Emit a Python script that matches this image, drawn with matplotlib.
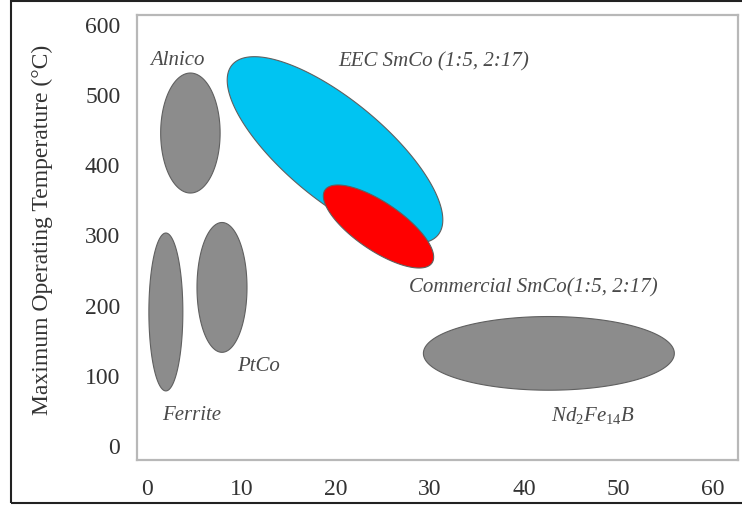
import numpy as np
import matplotlib
matplotlib.use("Agg")
import matplotlib.pyplot as plt
from matplotlib.patches import Rectangle

plt.rcParams['font.family'] = ['Liberation Serif', 'DejaVu Serif']
plt.rcParams['mathtext.fontset'] = 'custom'
plt.rcParams['mathtext.rm'] = 'Liberation Serif'
plt.rcParams['mathtext.it'] = 'Liberation Serif:italic'

# ---- data ----
x_ticks = [0, 10, 20, 30, 40, 50, 60]
y_ticks = [0, 100, 200, 300, 400, 500, 600]

# axis-aligned regions: (center x, center y, width, height)
upright_names = ["Alnico", "Ferrite", "PtCo", "Nd2Fe14B"]
upright_cx = [4.6, 2.0, 7.95, 42.6]
upright_cy = [446, 191, 226, 132]
upright_w = [6.3, 3.6, 5.3, 26.6]
upright_h = [171, 225, 185, 105]

# tilted regions: center and conjugate semi-axis vectors (data units)
tilt_names = ["EEC SmCo", "Commercial SmCo"]
tilt_cx = [19.93, 24.54]
tilt_cy = [421.8, 312.8]
tilt_major = [(10.92, -121.1), (5.67, -52.0)]
tilt_minor = [(3.37, 55.0), (1.43, 28.2)]
tilt_colors = ["#00c4f2", "#ff0000"]

labels = ["Alnico", "EEC SmCo (1:5, 2:17)", "Commercial SmCo(1:5, 2:17)",
          "PtCo", "Ferrite", r"$Nd_2Fe_{14}B$"]
label_x = [0.3, 20.3, 27.8, 9.5, 1.6, 42.8]
label_y = [550, 547, 225, 114, 43, 43]

fig = plt.figure(figsize=(7.42, 5.07), dpi=100)
ax = fig.add_axes([137/742, 1-460/507, (738-137)/742, (460-15)/507])

t = np.linspace(0, 2*np.pi, 400)
gray = "#8c8c8c"
edge = "#606060"
for cx, cy, w, h in zip(upright_cx, upright_cy, upright_w, upright_h):
    ax.fill(cx + w/2*np.cos(t), cy + h/2*np.sin(t), facecolor=gray,
            edgecolor=edge, linewidth=0.8, zorder=2)

for cx, cy, mj, mn, c in zip(tilt_cx, tilt_cy, tilt_major, tilt_minor, tilt_colors):
    xs = cx + mj[0]*np.cos(t) + mn[0]*np.sin(t)
    ys = cy + mj[1]*np.cos(t) + mn[1]*np.sin(t)
    ax.fill(xs, ys, facecolor=c, edgecolor=edge, linewidth=0.8, zorder=3)

for s, lx, ly in zip(labels, label_x, label_y):
    ax.text(lx, ly, s, fontsize=15, style='italic', color='#4a4a4a',
            ha='left', va='center', zorder=4)

ax.set_xlim(-1.06, 62.65)
ax.set_ylim(-19.95, 614.2)
ax.set_xticks(x_ticks)
ax.set_yticks(y_ticks)
ax.tick_params(length=0, labelsize=17, colors='#333333')
ax.tick_params(axis='y', pad=12)
ax.tick_params(axis='x', pad=13.5)
for sp in ax.spines.values():
    sp.set_color('#b8b8b8')
    sp.set_linewidth(1.6)
ax.set_ylabel("Maximum Operating Temperature (°C)", fontsize=17, color='#333333')
ax.yaxis.set_label_coords(-(137-53)/601, (460-230)/445)

# outer frame
fig.patches.append(Rectangle((11/742, 1-503/507), 1.0, (502)/507,
                             transform=fig.transFigure, fill=False,
                             edgecolor='#222222', linewidth=1.5))

fig.savefig("out.png", dpi=100)
